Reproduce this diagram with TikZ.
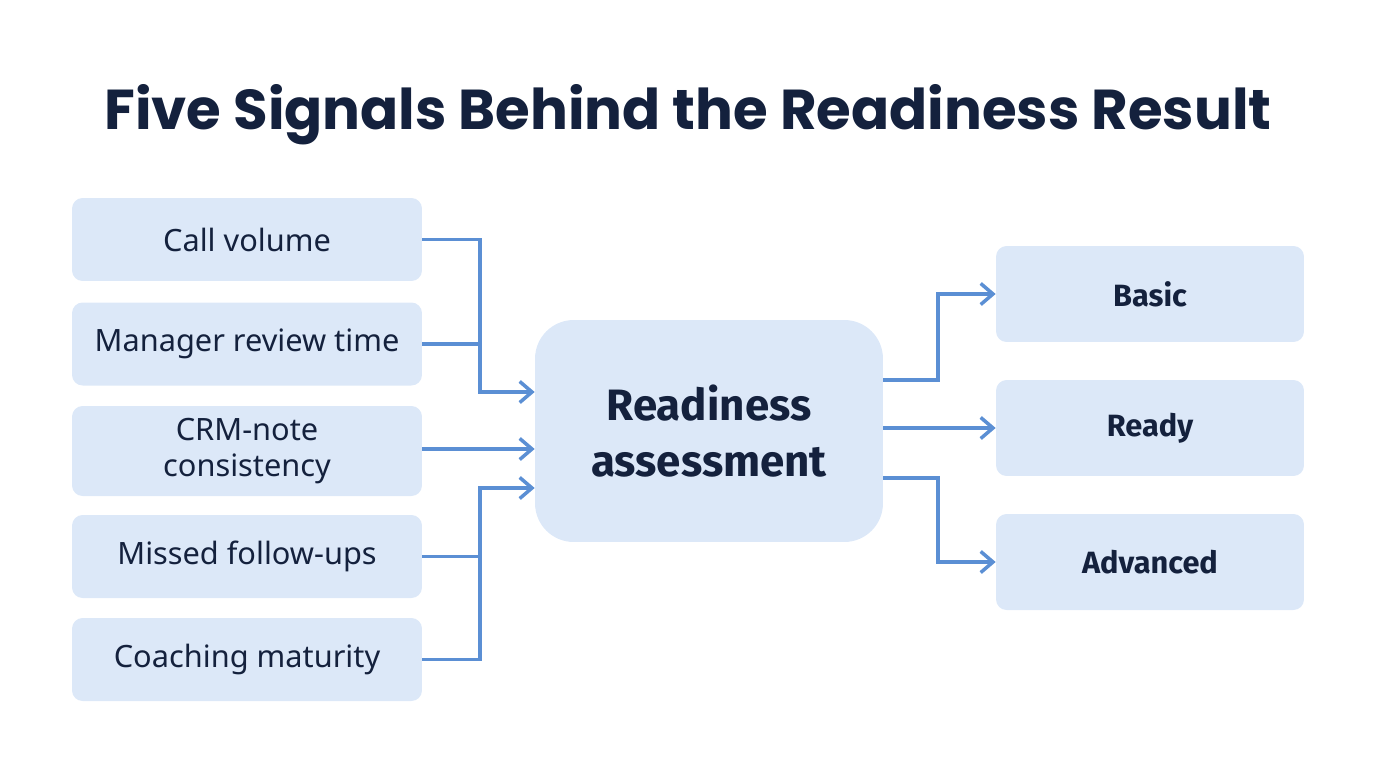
\documentclass[tikz,border=0pt]{standalone}
\usepackage{fontspec}
\setmainfont{Noto Sans}
\newfontfamily\titlefont{Poppins}
\newfontfamily\boldfont{Fira Sans}
\usetikzlibrary{arrows.meta}
\definecolor{boxfill}{HTML}{DCE8F8}
\definecolor{linkblue}{HTML}{5B8FD4}
\definecolor{inkdark}{HTML}{14213D}
\tikzset{
    signal/.style={fill=boxfill, rounded corners=6pt, minimum width=7cm, minimum height=1.66cm, align=center, text=inkdark, font=\fontsize{17.5}{21}\selectfont},
    level/.style={fill=boxfill, rounded corners=6pt, minimum width=6.16cm, minimum height=1.92cm, text=inkdark, font=\boldfont\fontsize{17.5}{21}\selectfont\bfseries},
    link/.style={draw=linkblue, line width=2pt, -{Straight Barb[length=7pt,width=12pt]}},
}
\begin{document}
\begin{tikzpicture}[x=0.02cm, y=-0.02cm]
    \useasboundingbox (0,0) rectangle (1376,768);
    \node[text=inkdark, font=\titlefont\fontsize{32}{38}\selectfont\bfseries] (Title) at (688,115) {Five Signals Behind the Readiness Result};
    % signals
    \node[signal] (Call) at (247,239.5) {Call volume};
    \node[signal] (Review) at (247,344) {Manager review time};
    \node[signal, minimum height=1.8cm] (Crm) at (247,451) {CRM-note\\consistency};
    \node[signal] (Missed) at (247,556.5) {Missed follow-ups};
    \node[signal] (Coach) at (247,659.5) {Coaching maturity};
    % assessment
    \node[fill=boxfill, rounded corners=22pt, minimum width=6.96cm, minimum height=4.44cm, align=center, text=inkdark, font=\boldfont\fontsize{25}{32}\selectfont\bfseries] (Assess) at (709,431) {Readiness\\assessment};
    % levels
    \node[level] (Basic) at (1150,294) {Basic};
    \node[level] (Ready) at (1150,428) {Ready};
    \node[level] (Advanced) at (1150,562) {Advanced};
    % links in
    \coordinate (Top) at (Assess.west |- 0,392);
    \coordinate (Low) at (Assess.west |- 0,488);
    \draw[link] (Call.east) -| (480,392) -- (Top);
    \draw[link, -] (Review.east) -- (480,344);
    \draw[link] (Crm.east |- 0,449) -- (Assess.west |- 0,449);
    \draw[link] (Missed.east) -| (480,488) -- (Low);
    \draw[link, -] (Coach.east) -| (480,556);
    % links out
    \draw[link] (Assess.east |- 0,380) -| (938,294) -- (Basic.west);
    \draw[link] (Assess.east |- 0,428) -- (Ready.west);
    \draw[link] (Assess.east |- 0,478) -| (938,562) -- (Advanced.west);
\end{tikzpicture}
\end{document}
